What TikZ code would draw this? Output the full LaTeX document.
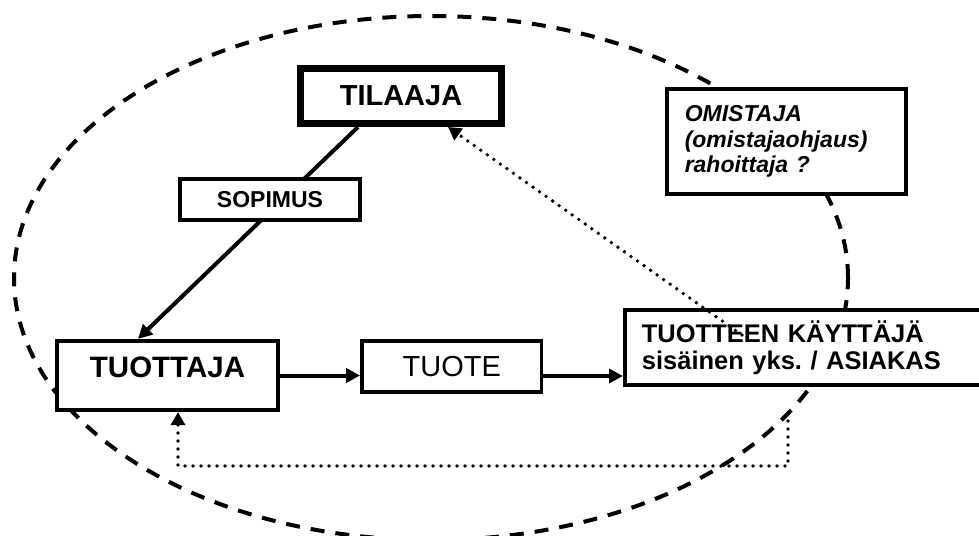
\documentclass[tikz,border=0pt]{standalone}
\usepackage{fontspec}
\setmainfont{Liberation Sans}
\usetikzlibrary{arrows.meta, positioning}

\begin{document}
\begin{tikzpicture}[x=1pt, y=-1pt, >={Triangle[length=14pt,width=14pt]}]
    \tikzstyle{laatikko}=[rectangle, draw, fill=white, line width=3.8pt, inner sep=0pt]
    \tikzstyle{nuoli}=[->, line width=4pt]
    \tikzstyle{pisteet}=[line width=3.8pt, line cap=round, dash pattern=on 0pt off 8pt,
                         -{Triangle[length=13pt,width=14pt]}]
    \useasboundingbox (0,0) rectangle (979,535);

    % katkoviivaellipsi
    \draw[line width=4pt, dash pattern=on 14pt off 11pt] (431,278) ellipse [x radius=417pt, y radius=262pt];

    \node[laatikko, minimum width=221.5pt, minimum height=69.5pt, text height=21pt, text depth=17pt,
          font=\fontsize{29.5}{33}\selectfont\bfseries] (F) at (167.5,375.5) {TUOTTAJA};
    \node[laatikko, minimum width=179.5pt, minimum height=51.5pt,
          font=\fontsize{29}{33}\selectfont] (C) [right=80pt of F, yshift=9pt] {TUOTE};
    \node[laatikko, anchor=west, minimum height=75.5pt, inner xsep=17pt, text width=330pt, align=left,
          font=\fontsize{25.5}{27}\selectfont\bfseries] (D) at (623,347.5)
          {TUOTTEEN KÄYTTÄJÄ\\sisäinen yks.\ / ASIAKAS};
    \node[laatikko, minimum height=105.5pt, inner xsep=18pt, text width=203.5pt, align=left,
          font=\fontsize{23}{25.5}\selectfont\bfseries\itshape] (E) at (786.5,141.5)
          {OMISTAJA\\(omistajaohjaus)\\rahoittaja ?};
    \node[laatikko, line width=7pt, minimum width=201pt, minimum height=55pt,
          font=\fontsize{29}{33}\selectfont\bfseries] (A) at (401,96) {TILAAJA};

    \coordinate (P) at (742,335);
    \coordinate (Q) at (788,413);
    \coordinate (R) at (178,466);

    \draw[nuoli] ([xshift=-43pt]A.south) -- ([xshift=-29.5pt]F.north);
    \draw[nuoli] (F.east) -- (F.east -| C.west);
    \draw[nuoli] ([yshift=-9.5pt]C.east) -- ([yshift=-9.5pt]C.east -| D.west);

    \node[laatikko, minimum width=180.5pt, minimum height=41.5pt,
          font=\fontsize{23}{26}\selectfont\bfseries] (B) at (270,199.5) {SOPIMUS};

    \draw[pisteet] (P) -- ([xshift=47pt]A.south);
    \draw[pisteet] (Q) |- (R) -- (R |- F.south);
\end{tikzpicture}
\end{document}
